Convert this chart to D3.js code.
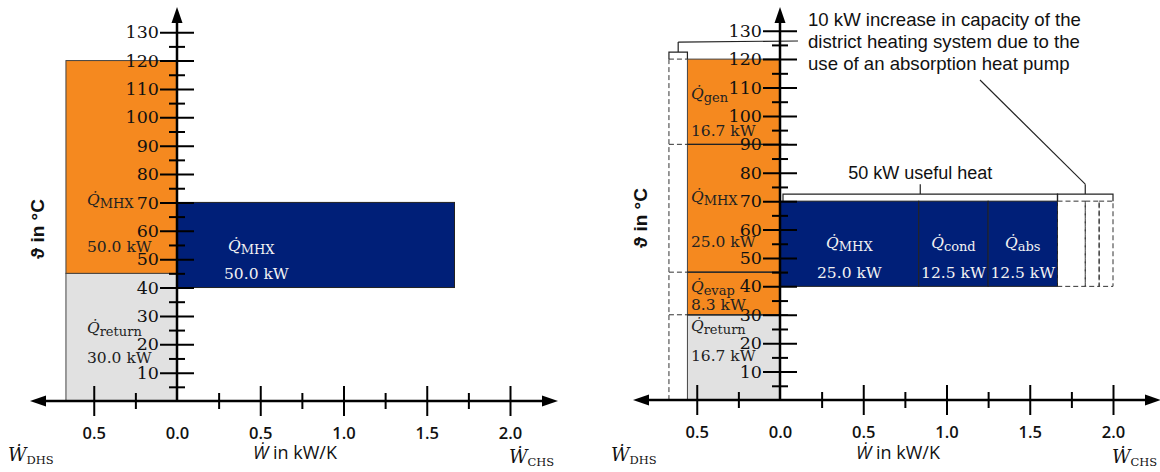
<!DOCTYPE html>
<html lang="en">
<head>
  <meta charset="UTF-8">
  <title>Temperature / heat capacity flow diagram</title>
  <script src="https://cdn.jsdelivr.net/npm/d3@7"></script>
  <style>
    body { margin:0; background:#fff; }
    svg { display:block; }
    .serif { font-family: "DejaVu Serif", serif; }
    .sans { font-family: "Liberation Sans", Arial, sans-serif; }
  </style>
</head>
<body>
  <svg id="chart" width="1160" height="472"></svg>

  <script>
  // axis ticks
  const yMajor = [10, 20, 30, 40, 50, 60, 70, 80, 90, 100, 110, 120, 130];
  const yMinor = [5, 15, 25, 35, 45, 55, 65, 75, 85, 95, 105, 115, 125];
  const xMajorCHS = [0.0, 0.5, 1.0, 1.5, 2.0];
  const xMinorCHS = [0.25, 0.75, 1.25, 1.75];
  const xMajorDHS = [0.5];
  const xMinorDHS = [0.25];

  // panel 1: without absorption heat pump
  const p1DhsNames = ["return", "MHX"];
  const p1DhsTemps = [[0, 45], [45, 120]];
  const p1DhsHeat = [30.0, 50.0];
  const p1DhsW = 0.667;
  const p1ChsNames = ["MHX"];
  const p1ChsTemps = [40, 70];
  const p1ChsHeat = [50.0];

  // panel 2: with absorption heat pump
  const p2DhsNames = ["return", "evap", "MHX", "gen"];
  const p2DhsTemps = [[0, 30], [30, 45], [45, 90], [90, 120]];
  const p2DhsHeat = [16.7, 8.3, 25.0, 16.7];
  const p2DhsW = 0.556;
  const p2ChsNames = ["MHX", "cond", "abs"];
  const p2ChsTemps = [40, 70];
  const p2ChsHeat = [25.0, 12.5, 12.5];
  const p2ExtraHeat = [5.0, 2.5, 2.5];   // dashed: extra capacity
  const usefulHeatText = "50 kW useful heat";
  const noteLines = ["10 kW increase in capacity of the",
                     "district heating system due to the",
                     "use of an absorption heat pump"];

  const ORANGE = "#f5891f", BLUE = "#001f78", GREY = "#e1e1e1";

  const svg = d3.select("#chart");

  function qLabel(g, x, y, sub, anchor, color) {
    const t = g.append("text").attr("class", "serif")
      .attr("x", x).attr("y", y)
      .attr("text-anchor", anchor)
      .attr("fill", color)
      .style("font-size", "15.5px");
    t.append("tspan").style("font-style", "italic").text("Q\u0307");
    t.append("tspan").attr("dy", 3).style("font-size", "13px").text(sub);
  }
  function kwLabel(g, x, y, q, anchor, color) {
    g.append("text").attr("class", "serif")
      .attr("x", x).attr("y", y)
      .attr("text-anchor", anchor)
      .attr("fill", color)
      .style("font-size", "15.5px")
      .text(d3.format(".1f")(q) + " kW");
  }

  function drawPanel(cfg) {
    const g = svg.append("g").attr("transform", `translate(${cfg.dx},0)`);
    const y = d3.scaleLinear().domain([0, 130]).range(cfg.yRange);
    const x = d3.scaleLinear().domain([0, 1]).range([177, 343.5]);    // CHS side
    const xd = d3.scaleLinear().domain([0, 1]).range([177, 10.5]);    // DHS side
    const x0 = x(0), y0 = y(0);

    // DHS blocks
    const dhs = g.append("g");
    cfg.dhsTemps.forEach((t, i) => {
      dhs.append("rect")
        .attr("x", xd(cfg.dhsW)).attr("y", y(t[1]))
        .attr("width", x0 - xd(cfg.dhsW)).attr("height", y(t[0]) - y(t[1]))
        .attr("fill", cfg.dhsNames[i] === "return" ? GREY : ORANGE)
        .attr("stroke", "#444").attr("stroke-width", 1);
    });

    // CHS blocks
    const dT = cfg.chsTemps[1] - cfg.chsTemps[0];
    let cum = 0;
    const chsPos = cfg.chsHeat.map(q => { const a = cum; cum += q / dT; return [a, cum]; });
    chsPos.forEach(p => {
      g.append("rect")
        .attr("x", x(p[0])).attr("y", y(cfg.chsTemps[1]))
        .attr("width", x(p[1]) - x(p[0])).attr("height", y(cfg.chsTemps[0]) - y(cfg.chsTemps[1]))
        .attr("fill", BLUE).attr("stroke", "#222").attr("stroke-width", 1);
    });

    if (cfg.extra) cfg.extra(g, x, xd, y, chsPos, dT);

    // labels on blocks
    cfg.dhsTemps.forEach((t, i) => {
      const lt = cfg.dhsLabelT[i];
      const col = "#222";
      qLabel(g, xd(cfg.dhsW) + cfg.dhsLabelDx, y(lt[0]), cfg.dhsNames[i], "start", col);
      kwLabel(g, xd(cfg.dhsW) + cfg.dhsLabelDx, y(lt[1]), cfg.dhsHeat[i], "start", col);
    });
    chsPos.forEach((p, i) => {
      const cx = cfg.chsCenter ? (x(p[0]) + x(p[1])) / 2 : x(p[0]) + cfg.chsLabelDx;
      const anchor = cfg.chsCenter ? "middle" : "start";
      qLabel(g, cx + (cfg.chsCenter ? 0 : 4), y(cfg.chsLabelT[0]), cfg.chsNames[i], anchor, "#f2f2f2");
      kwLabel(g, cx, y(cfg.chsLabelT[1]), cfg.chsHeat[i], anchor, "#f2f2f2");
    });

    // y axis
    const ya = g.append("g").attr("transform", `translate(${x0},0)`);
    ya.call(d3.axisLeft(y).tickValues(yMajor).tickSize(17).tickPadding(1).tickFormat(d3.format("d")));
    ya.select(".domain").remove();
    ya.selectAll(".tick line").attr("x1", 17).attr("x2", -17).attr("stroke", "#000").attr("stroke-width", 2);
    ya.selectAll(".tick text").attr("class", "serif").style("font-size", "17.5px").attr("fill", "#111");
    const ym = g.append("g").attr("transform", `translate(${x0},0)`);
    ym.call(d3.axisLeft(y).tickValues(yMinor).tickSize(8).tickFormat(""));
    ym.select(".domain").remove();
    ym.selectAll(".tick line").attr("x1", 8).attr("x2", -8).attr("stroke", "#000").attr("stroke-width", 2);

    // x axes (both directions)
    const xa = g.append("g").attr("transform", `translate(0,${y0})`);
    xa.call(d3.axisBottom(x).tickValues(xMajorCHS).tickSize(15).tickFormat(d3.format(".1f")));
    const xb = g.append("g").attr("transform", `translate(0,${y0})`);
    xb.call(d3.axisBottom(xd).tickValues(xMajorDHS).tickSize(15).tickFormat(d3.format(".1f")));
    [xa, xb].forEach(a => {
      a.select(".domain").remove();
      a.selectAll(".tick line").attr("y1", -15).attr("y2", 15).attr("stroke", "#000").attr("stroke-width", 2);
      a.selectAll(".tick text").attr("y", 26).attr("dy", "0.71em")
        .style("font-family", "'Open Sans', sans-serif").style("font-size", "16.5px")
        .style("font-weight", 600).attr("fill", "#111");
    });
    xa.selectAll(".tick").filter(d => d === 0).select("line").remove();
    const xm = g.append("g").attr("transform", `translate(0,${y0})`);
    xm.call(d3.axisBottom(x).tickValues(xMinorCHS).tickSize(8).tickFormat(""));
    const xn = g.append("g").attr("transform", `translate(0,${y0})`);
    xn.call(d3.axisBottom(xd).tickValues(xMinorDHS).tickSize(8).tickFormat(""));
    [xm, xn].forEach(a => {
      a.select(".domain").remove();
      a.selectAll(".tick line").attr("y1", -8).attr("y2", 8).attr("stroke", "#000").attr("stroke-width", 2);
    });

    // axis lines + arrows
    g.append("line").attr("x1", 44).attr("x2", 544).attr("y1", y0).attr("y2", y0)
      .attr("stroke", "#000").attr("stroke-width", 2.5);
    g.append("line").attr("x1", x0).attr("x2", x0).attr("y1", y0).attr("y2", 20)
      .attr("stroke", "#000").attr("stroke-width", 2.5);
    g.append("path").attr("d", `M${x0},7 L${x0 - 5.5},23 L${x0 + 5.5},23 Z`).attr("fill", "#000");
    g.append("path").attr("d", `M30,${y0} L46,${y0 - 5.5} L46,${y0 + 5.5} Z`).attr("fill", "#000");
    g.append("path").attr("d", `M558,${y0} L542,${y0 - 5.5} L542,${y0 + 5.5} Z`).attr("fill", "#000");

    // axis titles
    g.append("text").attr("transform", `translate(44,${cfg.yTitleY}) rotate(-90)`)
      .attr("text-anchor", "middle")
      .style("font-family", "'Liberation Sans', 'DejaVu Sans', sans-serif")
      .style("font-weight", "bold").style("font-size", "19px").attr("fill", "#111")
      .text("\u03D1 in \u00B0C");

    const xt = g.append("text").attr("x", 295).attr("y", 459).attr("text-anchor", "middle")
      .style("font-family", "'Open Sans', sans-serif").style("font-size", "18px").attr("fill", "#111");
    xt.append("tspan").style("font-style", "italic").text("\u1E86");
    xt.append("tspan").text(" in kW/K");

    [["DHS", 8, 461], ["CHS", 509, 463]].forEach(d => {
      const t = g.append("text").attr("class", "serif").attr("x", d[1]).attr("y", d[2])
        .style("font-size", "18px").attr("fill", "#111");
      t.append("tspan").style("font-style", "italic").text("\u1E86");
      t.append("tspan").attr("dy", 3).style("font-size", "11.5px").text(d[0]);
    });
  }

  // panel 1
  drawPanel({
    dx: 0, yRange: [401, 32.2], yTitleY: 229,
    dhsNames: p1DhsNames, dhsTemps: p1DhsTemps, dhsHeat: p1DhsHeat, dhsW: p1DhsW,
    chsNames: p1ChsNames, chsTemps: p1ChsTemps, chsHeat: p1ChsHeat,
    dhsLabelT: [[24.0, 13.4], [69.1, 52.5]], dhsLabelDx: 21,
    chsLabelT: [53.0, 43.0], chsLabelDx: 47, chsCenter: false
  });

  // panel 2
  drawPanel({
    dx: 603, yRange: [400, 30.7], yTitleY: 218,
    dhsNames: p2DhsNames, dhsTemps: p2DhsTemps, dhsHeat: p2DhsHeat, dhsW: p2DhsW,
    chsNames: p2ChsNames, chsTemps: p2ChsTemps, chsHeat: p2ChsHeat,
    dhsLabelT: [[24.3, 13.7], [38.1, 31.7], [69.8, 53.9], [106.1, 93.1]], dhsLabelDx: 3.5,
    chsLabelT: [53.4, 42.8], chsCenter: true,
    extra: (g, x, xd, y, chsPos, dT) => {
      const dash = "5,3";
      const xl = xd(p1DhsW), xr = xd(p2DhsW);
      // former DHS width (dashed)
      g.append("line").attr("x1", xl).attr("x2", xl).attr("y1", y(120)).attr("y2", y(0))
        .attr("stroke", "#333").attr("stroke-dasharray", dash);
      p2DhsTemps.forEach(t => {
        g.append("line").attr("x1", xl).attr("x2", xr).attr("y1", y(t[1])).attr("y2", y(t[1]))
          .attr("stroke", "#333").attr("stroke-dasharray", dash);
        if (t[1] < 120) g.append("line").attr("x1", xr).attr("x2", x(0) + 8).attr("y1", y(t[1])).attr("y2", y(t[1]))
          .attr("stroke", "#222").attr("stroke-width", 1.3);
      });
      // extra CHS capacity (dashed)
      let c = chsPos[chsPos.length - 1][1];
      const ext = p2ExtraHeat.map(q => { const a = c; c += q / dT; return [a, c]; });
      ext.forEach(p => {
        g.append("rect").attr("x", x(p[0])).attr("y", y(70))
          .attr("width", x(p[1]) - x(p[0])).attr("height", y(40) - y(70))
          .attr("fill", "none").attr("stroke", "#333").attr("stroke-dasharray", dash);
      });
      // brackets
      const bracket = (xa, xb, yb) => {
        const yt = yb - 7, xm = (xa + xb) / 2;
        g.append("path").attr("d", `M${xa},${yb} V${yt} H${xb} V${yb} M${xm},${yt} V${yt - 10}`)
          .attr("fill", "none").attr("stroke", "#222").attr("stroke-width", 1.2);
        return [xm, yt - 10];
      };
      const b1 = bracket(x(0) + 3, x(chsPos[chsPos.length - 1][1]), y(70));
      const b2 = bracket(x(ext[0][0]), x(ext[ext.length - 1][1]), y(70));
      const b3 = bracket(xl, xr, y(120));
      g.append("text").attr("class", "sans").attr("x", b1[0]).attr("y", b1[1] - 5)
        .attr("text-anchor", "middle").style("font-size", "18px").attr("fill", "#111")
        .text(usefulHeatText);
      noteLines.forEach((s, i) => {
        g.append("text").attr("class", "sans").attr("x", 205).attr("y", 26 + i * 22)
          .style("font-size", "18.6px").attr("fill", "#111").text(s);
      });
      g.append("line").attr("x1", b3[0]).attr("y1", b3[1]).attr("x2", 195).attr("y2", 41)
        .attr("stroke", "#222").attr("stroke-width", 1.1);
      g.append("line").attr("x1", 377).attr("y1", 80).attr("x2", b2[0]).attr("y2", b2[1])
        .attr("stroke", "#222").attr("stroke-width", 1.1);
    }
  });
  </script>
</body>
</html>
